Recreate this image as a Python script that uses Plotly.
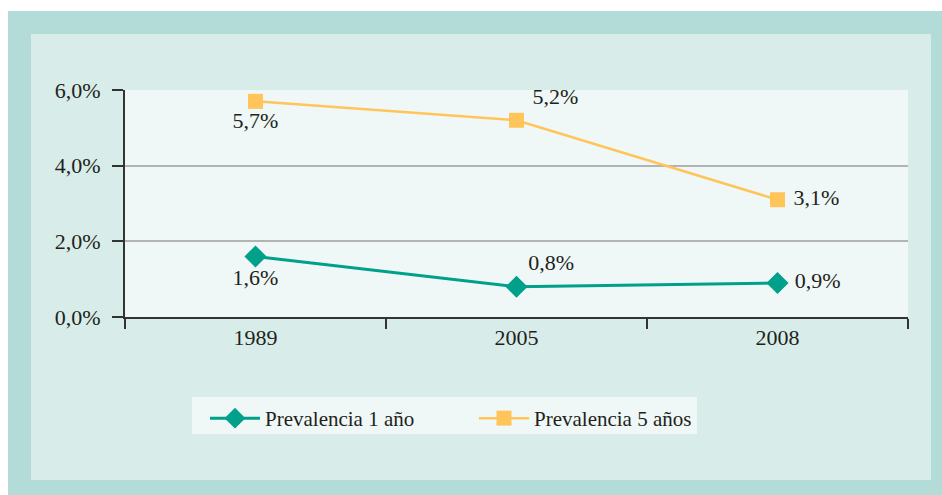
import plotly.graph_objects as go

# Prevalence data (percent)
years = ["1989", "2005", "2008"]
prev_1_year = [1.6, 0.8, 0.9]
prev_5_years = [5.7, 5.2, 3.1]
y_ticks = [0, 2, 4, 6]
y_tick_text = ["0,0%", "2,0%", "4,0%", "6,0%"]

label_pos_1 = ["bottom center", "top right", "middle right"]
label_pos_5 = ["bottom center", "top right", "middle right"]
label_fmt_1 = ["%{y:.1f}%", "%{y:.1f}%", " %{y:.1f}%"]
label_fmt_5 = ["%{y:.1f}%", " %{y:.1f}%", " %{y:.1f}%"]

TEAL = "#00a08a"
GOLD = "#ffc55a"
FONT = "Liberation Serif"
TEXT = "#231f20"

# pixel geometry of the plotting area inside the 942x495 canvas
W, H = 942, 495
L, R, T, B = 125, 908, 90, 317
PW, PH = R - L, B - T


def px(x):
    return (x - L) / PW


def py(y):
    return (B - y) / PH


fig = go.Figure()

fig.add_trace(go.Scatter(
    x=years, y=prev_1_year, name="Prevalencia 1 año",
    mode="lines+markers+text", cliponaxis=False,
    line=dict(color=TEAL, width=3),
    marker=dict(symbol="diamond", size=17, color=TEAL),
    texttemplate=label_fmt_1, textposition=label_pos_1,
    textfont=dict(family=FONT, size=22, color=TEXT),
))
fig.add_trace(go.Scatter(
    x=years, y=prev_5_years, name="Prevalencia 5 años",
    mode="lines+markers+text", cliponaxis=False,
    line=dict(color=GOLD, width=2.5),
    marker=dict(symbol="square", size=15, color=GOLD),
    texttemplate=label_fmt_5, textposition=label_pos_5,
    textfont=dict(family=FONT, size=22, color=TEXT),
))

# Framed background: outer teal band, lighter inner panel, plot panel, legend box
fig.add_shape(type="rect", xref="paper", yref="paper", layer="below",
              x0=px(8), x1=px(W), y0=py(H), y1=py(11),
              fillcolor="#b3dbd7", line_width=0)
fig.add_shape(type="rect", xref="paper", yref="paper", layer="below",
              x0=px(31), x1=px(931), y0=py(480), y1=py(34),
              fillcolor="#d8ece9", line_width=0)
fig.add_shape(type="rect", xref="paper", yref="paper", layer="below",
              x0=0, x1=1, y0=0, y1=1,
              fillcolor="#eff8f6", line_width=0)
fig.add_shape(type="rect", xref="paper", yref="paper", layer="below",
              x0=px(192), x1=px(697), y0=py(434), y1=py(397),
              fillcolor="#eff8f6", line_width=0)

fig.update_layout(
    width=W, height=H,
    margin=dict(l=L, r=W - R, t=T, b=H - B),
    paper_bgcolor="white",
    plot_bgcolor="#eff8f6",
    separators=", ",
    font=dict(family=FONT, size=22, color=TEXT),
    showlegend=True,
    legend=dict(
        orientation="h", x=px(205), xanchor="left",
        y=py(398), yanchor="top",
        bgcolor="rgba(0,0,0,0)", itemwidth=50, entrywidth=204, entrywidthmode="pixels",
        font=dict(family=FONT, size=21, color=TEXT),
        traceorder="normal",
    ),
    xaxis=dict(
        type="category", range=[-0.5, 2.5], showgrid=False,
        showline=True, linecolor="#333333", linewidth=2,
        ticks="outside", tickson="boundaries", ticklen=10, tickcolor="#333333",
        tickwidth=1.5, tickfont=dict(size=22), fixedrange=True,
    ),
    yaxis=dict(
        range=[0, 6], tickvals=y_ticks, ticktext=y_tick_text,
        showgrid=True, gridcolor="#b3b3b3", gridwidth=2,
        showline=True, linecolor="#333333", linewidth=2, zeroline=False,
        ticks="outside", ticklen=11, tickcolor="#333333", tickwidth=2,
        ticklabelstandoff=7, tickfont=dict(size=22), fixedrange=True,
    ),
)

fig.write_html("out.html")
